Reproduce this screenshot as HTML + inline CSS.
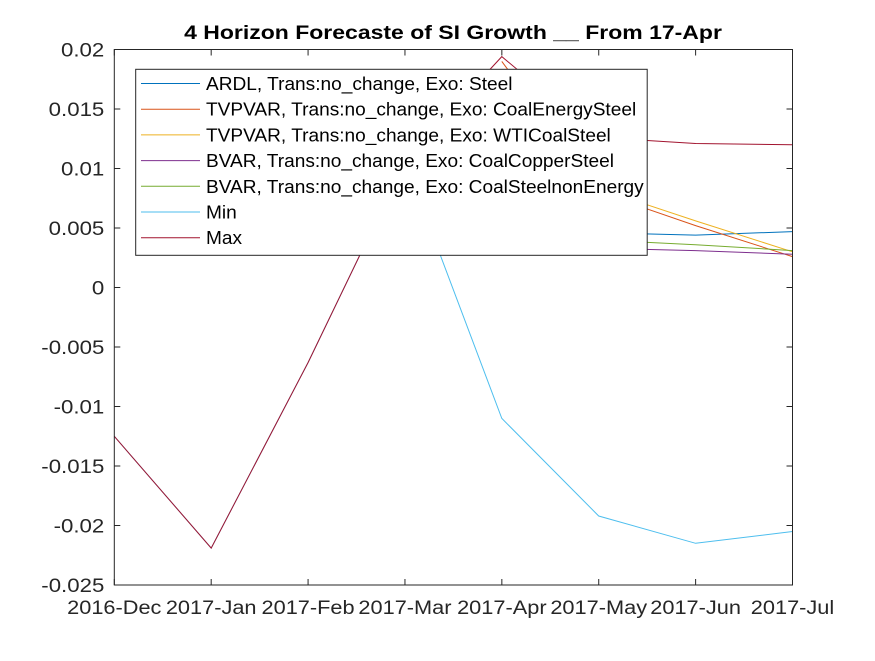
<!DOCTYPE html>
<html><head><meta charset="utf-8"><style>
body{margin:0;background:#fff;}
svg text{font-family:"Liberation Sans",Arial,sans-serif;}
</style></head><body>
<svg id="chart" width="875" height="656" xmlns="http://www.w3.org/2000/svg">
<rect width="875" height="656" fill="#fff"/>
<text id="title" x="453" y="39" text-anchor="middle" font-size="19" font-weight="bold" fill="#000">4 Horizon Forecaste of SI Growth __ From 17-Apr</text>
<g id="series"></g>
<g id="axes"></g>
<g id="legend"></g>
</svg>
<script>
const categories = ["2016-Dec","2017-Jan","2017-Feb","2017-Mar","2017-Apr","2017-May","2017-Jun","2017-Jul"];
const yTicks = [0.02,0.015,0.01,0.005,0,-0.005,-0.01,-0.015,-0.02,-0.025];
const yTickLabels = ["0.02","0.015","0.01","0.005","0","-0.005","-0.01","-0.015","-0.02","-0.025"];
const seriesNames = ["ARDL, Trans:no_change, Exo: Steel","TVPVAR, Trans:no_change, Exo: CoalEnergySteel","TVPVAR, Trans:no_change, Exo: WTICoalSteel","BVAR, Trans:no_change, Exo: CoalCopperSteel","BVAR, Trans:no_change, Exo: CoalSteelnonEnergy","Min","Max"];
const seriesColors = ["#0072BD","#D95319","#EDB120","#7E2F8E","#77AC30","#4DBEEE","#A2142F"];
const ardl = [null,null,null,null,0.012,0.0046,0.0044,0.0047];
const tvpCoalEnergy = [null,null,null,null,0.019,0.0080,0.0052,0.0026];
const tvpWti = [null,null,null,null,0.018,0.0083,0.0056,0.0030];
const bvarCopper = [null,null,null,null,0.009,0.0033,0.0031,0.0028];
const bvarNonEnergy = [null,null,null,null,0.010,0.0040,0.0036,0.0031];
const minSeries = [-0.0125,-0.0219,-0.0063,0.0106,-0.011,-0.0192,-0.0215,-0.0205];
const maxSeries = [-0.0125,-0.0219,-0.0063,0.0106,0.0194,0.0126,0.0121,0.0120];
const allSeries = [ardl,tvpCoalEnergy,tvpWti,bvarCopper,bvarNonEnergy,minSeries,maxSeries];

const L=114.3,R=792.5,T=49.5,B=585;
const NS="http://www.w3.org/2000/svg";
const x=i=>L+(R-L)*i/(categories.length-1);
const y=v=>T+(0.02-v)/0.045*(B-T);
function mk(tag,attrs,parent){const e=document.createElementNS(NS,tag);for(const k in attrs)e.setAttribute(k,attrs[k]);parent.appendChild(e);return e;}
function widen(t,f){const w=t.getComputedTextLength();t.setAttribute('textLength',(w*f).toFixed(1));t.setAttribute('lengthAdjust','spacingAndGlyphs');}
const axes=document.getElementById('axes'),ser=document.getElementById('series'),leg=document.getElementById('legend');
widen(document.getElementById('title'),1.21);

allSeries.forEach((s,si)=>{
  let d="";let started=false;
  s.forEach((v,i)=>{if(v===null)return;d+=(started?"L":"M")+x(i).toFixed(1)+","+y(v).toFixed(1);started=true;});
  const p=mk('path',{d:d,fill:"none",stroke:seriesColors[si],"stroke-width":"1"},ser);
  
  
});

const box=mk('rect',{x:L,y:T,width:R-L,height:B-T,fill:"none",stroke:"#262626","stroke-width":"1"},axes);


categories.forEach((c,i)=>{
  mk('line',{x1:x(i),x2:x(i),y1:B,y2:B-6,stroke:"#262626"},axes);
  mk('line',{x1:x(i),x2:x(i),y1:T,y2:T+6,stroke:"#262626"},axes);
  const t=mk('text',{x:x(i),y:B+29,"text-anchor":"middle","font-size":"19",fill:"#262626"},axes);
  t.textContent=c;
  
  
  widen(t,1.145);
});
yTicks.forEach((v,i)=>{
  mk('line',{x1:L,x2:L+6,y1:y(v),y2:y(v),stroke:"#262626"},axes);
  mk('line',{x1:R,x2:R-6,y1:y(v),y2:y(v),stroke:"#262626"},axes);
  const t=mk('text',{x:L-10,y:y(v)+7,"text-anchor":"end","font-size":"19",fill:"#262626"},axes);
  t.textContent=yTickLabels[i];
  
  
  widen(t,1.17);
});

const lb=mk('rect',{x:135.7,y:69.3,width:511.5,height:186,fill:"#fff",stroke:"#262626","stroke-width":"1"},leg);


seriesNames.forEach((n,i)=>{
  const yy=83.5+i*25.7;
  const g=mk('g',{},leg);
  
  
  mk('line',{x1:141,x2:200,y1:yy,y2:yy,stroke:seriesColors[i]},g);
  const t=mk('text',{x:206,y:yy+6.5,"font-size":"18",fill:"#000"},g);
  t.textContent=n;
  widen(t,1.06);
});
</script>
</body></html>
